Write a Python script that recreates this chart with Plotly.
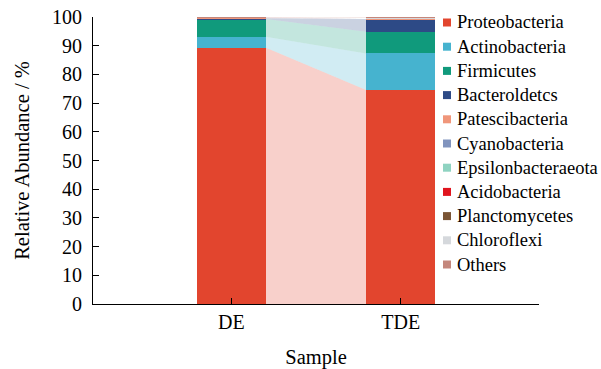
import plotly.graph_objects as go

samples = ["DE", "TDE"]
phyla = ["Proteobacteria", "Actinobacteria", "Firmicutes", "Bacteroldetcs",
         "Patescibacteria", "Cyanobacteria", "Epsilonbacteraeota", "Acidobacteria",
         "Planctomycetes", "Chloroflexi", "Others"]
de_values = [89.3, 3.8, 6.2, 0.3, 0.05, 0.05, 0.05, 0.05, 0.05, 0.05, 0.1]
tde_values = [74.6, 12.7, 7.6, 4.4, 0.05, 0.1, 0.05, 0.05, 0.05, 0.1, 0.3]
colors = ["#E2452E", "#46B3CF", "#109A7C", "#2D4A86", "#F0967A", "#8194BE",
          "#8FD3C1", "#E0141E", "#7A5535", "#D5D8DC", "#C4877C"]

BAR_W = 0.408
FONT = "'Liberation Serif', 'Times New Roman', Times, serif"

# plot area geometry in pixels (for paper-coordinate legend placement)
W, H = 601, 369
ML, MR, MT, MB = 93, 62, 17, 65
PW, PH = W - ML - MR, H - MT - MB


def px_x(p):
    return (p - ML) / PW


def px_y(p):
    return (H - MB - p) / PH


def rgba(hexc, a):
    h = hexc.lstrip("#")
    r, g, b = int(h[0:2], 16), int(h[2:4], 16), int(h[4:6], 16)
    return f"rgba({r},{g},{b},{a})"


fig = go.Figure()

# connector bands between the two bars
cum_de, cum_tde = 0.0, 0.0
xs_left = 0 + BAR_W / 2
xs_right = 1 - BAR_W / 2
for name, v1, v2, c in zip(phyla, de_values, tde_values, colors):
    b1, t1 = cum_de, cum_de + v1
    b2, t2 = cum_tde, cum_tde + v2
    fig.add_trace(go.Scatter(
        x=[xs_left, xs_right, xs_right, xs_left, xs_left],
        y=[b1, b2, t2, t1, b1],
        fill="toself", fillcolor=rgba(c, 0.25), mode="lines",
        line=dict(width=0), hoverinfo="skip", showlegend=False))
    cum_de, cum_tde = t1, t2

# stacked bars
for name, v1, v2, c in zip(phyla, de_values, tde_values, colors):
    fig.add_trace(go.Bar(
        x=[0, 1], y=[v1, v2], name=name, width=BAR_W,
        marker=dict(color=c, line=dict(width=0)), showlegend=False))

# legend drawn as text + square swatches
annotations = []
shapes = []
leg_y0, leg_dy = 22.5, 24.2
for i, (name, c) in enumerate(zip(phyla, colors)):
    cy = leg_y0 + i * leg_dy
    annotations.append(dict(
        x=px_x(455), y=px_y(cy), xref="paper", yref="paper", text=name,
        showarrow=False, xanchor="left", yanchor="middle",
        font=dict(family=FONT, size=18.5, color="black")))
    shapes.append(dict(
        type="rect", xref="paper", yref="paper",
        x0=px_x(443), x1=px_x(451), y0=px_y(cy - 4), y1=px_y(cy + 4),
        fillcolor=c, line=dict(width=0)))

fig.update_layout(
    width=W, height=H, autosize=False,
    margin=dict(l=ML, r=MR, t=MT, b=MB, autoexpand=False),
    barmode="stack", bargap=0,
    plot_bgcolor="white", paper_bgcolor="white",
    font=dict(family=FONT, color="black"),
    showlegend=False,
    annotations=annotations, shapes=shapes,
    xaxis=dict(
        range=[-0.818, 1.817], tickvals=[0, 1], ticktext=samples,
        ticks="inside", ticklen=6, tickcolor="black", tickwidth=1,
        showline=True, linecolor="black", linewidth=1,
        showgrid=False, zeroline=False, automargin=False,
        tickfont=dict(family=FONT, size=20),
        title=dict(text="Sample", font=dict(family=FONT, size=20.5), standoff=18)),
    yaxis=dict(
        range=[0, 100], tickvals=list(range(0, 101, 10)),
        ticks="inside", ticklen=6, tickcolor="black", tickwidth=1,
        showline=True, linecolor="black", linewidth=1,
        showgrid=False, zeroline=False, ticklabelstandoff=6, automargin=False,
        tickfont=dict(family=FONT, size=20),
        title=dict(text="Relative Abundance / %", font=dict(family=FONT, size=20.5), standoff=16)),
)

fig.write_html("out.html", config={"displayModeBar": False},
               post_script="document.body.style.margin='0';")
